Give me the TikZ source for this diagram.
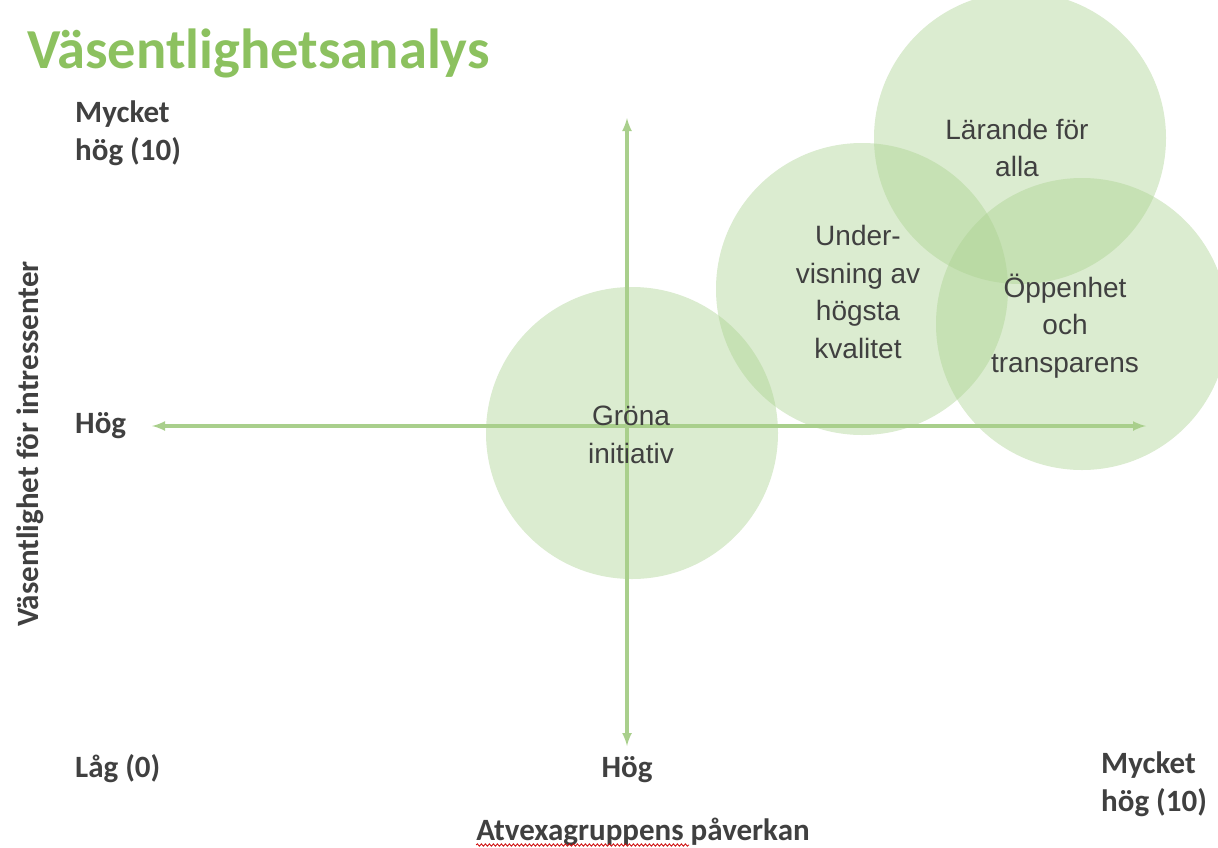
\documentclass[tikz,border=0pt]{standalone}
\usepackage{fontspec}
\setmainfont{Carlito}
\newfontfamily\bubblefont{Liberation Sans}
\usetikzlibrary{positioning, calc, decorations.pathmorphing}

\definecolor{titlegreen}{RGB}{140,193,95}
\definecolor{axisgreen}{RGB}{169,207,140}
\definecolor{bubblegreen}{RGB}{169,209,142}
\definecolor{labelgray}{RGB}{64,64,64}

\begin{document}
\begin{tikzpicture}[
    x=1pt, y=-1pt,
    bubble/.style={
      circle, fill=bubblegreen, fill opacity=.42, minimum size=292pt, inner sep=0pt
    },
    bubbletext/.style={
      align=center, text=labelgray, font=\bubblefont\fontsize{28}{37.5}\selectfont
    },
    axislabel/.style={
      align=left, anchor=base west, text=labelgray, inner sep=0pt,
      font=\bfseries\fontsize{31}{38}\selectfont
    },
    axis/.style={
      draw=axisgreen, line width=3.4pt, >=latex
    },
  ]
    \useasboundingbox (0,0) rectangle (1218,847);

    % title
    \node [anchor=base west, inner sep=0pt, text=titlegreen,
      font=\bfseries\fontsize{56.5}{60}\selectfont] (title) at (27,68) {Väsentlighetsanalys};

    % axes
    \coordinate (x_left) at (152,426);
    \coordinate (x_right) at (1146,426);
    \coordinate (y_top) at (627,118);
    \coordinate (y_bottom) at (627,746);
    \draw [axis, <->] (x_left) -- (x_right);
    \draw [axis, <->] (y_top) -- (y_bottom);

    % bubbles
    \node [bubble] (larande) at (1020,138) {};
    \node [bubble] (undervisning) at (862,289) {};
    \node [bubble] (oppenhet) at (1082,324) {};
    \node [bubble] (grona) at (632,433) {};

    % bubble texts
    \node [bubbletext] (larande_text) at ($(larande)+(-3,10)$) {Lärande för\\alla};
    \node [bubbletext] (undervisning_text) at ($(undervisning)+(-4,3)$) {Under-\\visning av\\högsta\\kvalitet};
    \node [bubbletext] (oppenhet_text) at ($(oppenhet)+(-17,2)$) {Öppenhet\\och\\transparens};
    \node [bubbletext] (grona_text) at ($(grona)+(-1,2)$) {Gröna\\initiativ};

    % labels (base = last line)
    \node [axislabel] (y_max) at (75,160) {Mycket\\hög (10)};
    \node [axislabel] (y_mid) at (75,433) {Hög};
    \node [axislabel] (origin) at (75,777) {Låg (0)};
    \node [axislabel, anchor=base] (x_mid) at (627,777) {Hög};
    \node [axislabel] (x_max) at (1101,811) {Mycket\\hög (10)};

    % axis titles
    \node [axislabel, anchor=base, font=\bfseries\fontsize{31}{34}\selectfont] (x_title) at (643,840) {Atvexagruppens påverkan};
    \node [axislabel, anchor=base, rotate=90, font=\bfseries\fontsize{31}{34}\selectfont] (y_title) at (38,444) {Väsentlighet för intressenter};

    % spelling squiggle
    \coordinate (squiggle_start) at ($(x_title.base west)+(0,5)$);
    \coordinate (squiggle_end) at ($(x_title.base west)+(213,5)$);
    \draw [red!80!black, line width=.8pt, decorate,
      decoration={snake, amplitude=1.2pt, segment length=4pt}] (squiggle_start) -- (squiggle_end);

  \end{tikzpicture}
\end{document}
